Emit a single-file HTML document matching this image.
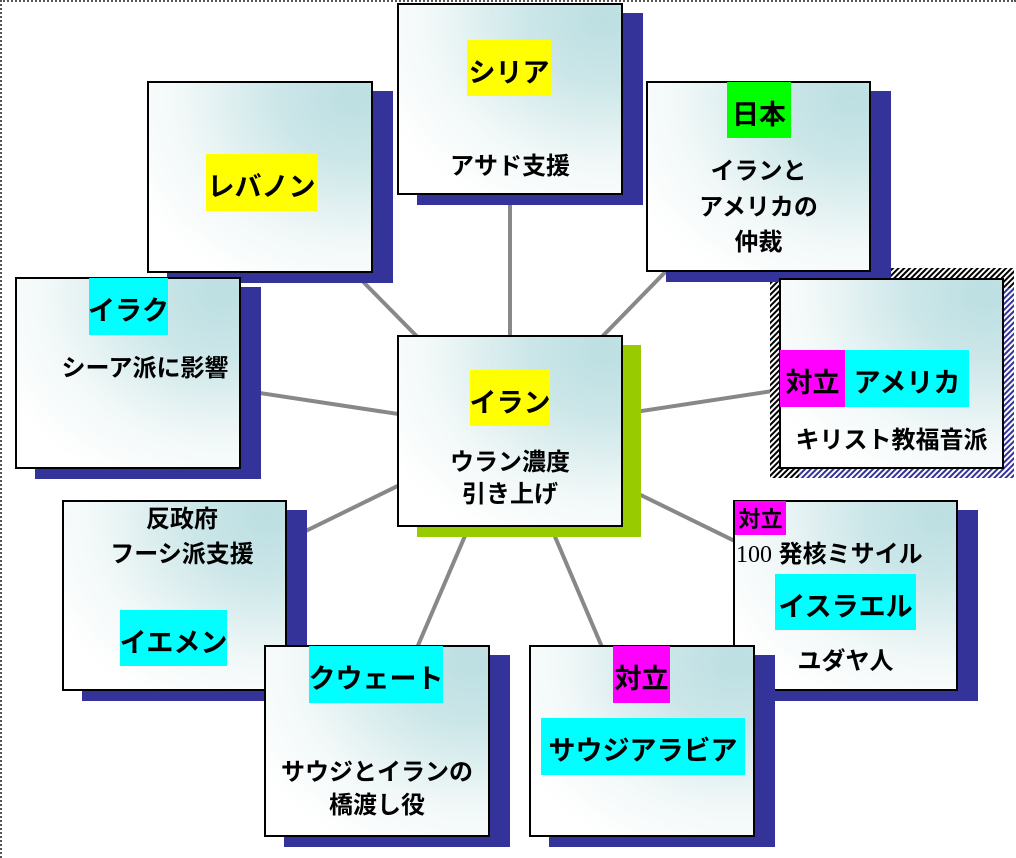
<!DOCTYPE html>
<html><head><meta charset="utf-8"><style>
html,body{margin:0;padding:0;}
body{width:1016px;height:858px;position:relative;overflow:hidden;background:#fff;font-family:"Liberation Sans","Noto Sans CJK JP",sans-serif;}
.frame{position:absolute;left:0;top:0;width:1016px;height:858px;box-sizing:border-box;border-top:2px dotted #555;border-left:2px dotted #555;}
.sh{position:absolute;background:#333399;}
.bx{position:absolute;box-sizing:border-box;border:2px solid #000;background:radial-gradient(ellipse at 92% 8%,#bcdfe2 0%,#cbe6e8 25%,#f2f8f8 60%,#fff 85%);}
.t{position:absolute;font-weight:bold;font-size:24px;color:#000;display:flex;align-items:center;justify-content:center;white-space:nowrap;line-height:1;}
.L{font-size:27px;box-sizing:border-box;padding-top:10px;}
.y{background:#ffff00}.c{background:#00ffff}.m{background:#ff00ff}.g{background:#00ff00}
</style></head><body>
<div class="frame"></div>
<svg style="position:absolute;left:0;top:0" width="1016" height="858">
<defs><pattern id="h" width="4" height="4" patternUnits="userSpaceOnUse" patternTransform="rotate(45)"><rect width="4" height="4" fill="#fff"/><rect width="2" height="4" fill="#000"/></pattern>
<pattern id="h2" width="4" height="4" patternUnits="userSpaceOnUse" patternTransform="rotate(45)"><rect width="4" height="4" fill="#fff"/><rect width="2" height="4" fill="#333399"/></pattern></defs>
<g stroke="#888" stroke-width="4">
<line x1="510" y1="431" x2="260" y2="177"/>
<line x1="510" y1="431" x2="510" y2="100"/>
<line x1="510" y1="431" x2="758" y2="177"/>
<line x1="510" y1="431" x2="128" y2="373"/>
<line x1="510" y1="431" x2="891" y2="373"/>
<line x1="510" y1="431" x2="175" y2="595"/>
<line x1="510" y1="431" x2="377" y2="741"/>
<line x1="510" y1="431" x2="642" y2="741"/>
<line x1="510" y1="431" x2="845" y2="595"/>
</g>
<rect x="770" y="268" width="244" height="210" fill="url(#h)"/>
<rect x="799" y="288" width="215" height="190" fill="url(#h2)"/>
</svg>
<div class="sh" style="left:167px;top:91px;width:226px;height:192px"></div>
<div class="bx" style="left:147px;top:81px;width:226px;height:192px"></div>
<div class="sh" style="left:417px;top:13px;width:226px;height:192px"></div>
<div class="bx" style="left:397px;top:3px;width:226px;height:192px"></div>
<div class="sh" style="left:666px;top:91px;width:225px;height:191px"></div>
<div class="bx" style="left:646px;top:81px;width:225px;height:191px"></div>
<div class="sh" style="left:35px;top:287px;width:226px;height:192px"></div>
<div class="bx" style="left:15px;top:277px;width:226px;height:192px"></div>
<div class="bx" style="left:779px;top:278px;width:225px;height:191px"></div>
<div class="sh" style="left:417px;top:345px;width:224px;height:192px;background:#99cc00"></div>
<div class="bx" style="left:397px;top:335px;width:226px;height:192px"></div>
<div class="sh" style="left:82px;top:510px;width:225px;height:191px"></div>
<div class="bx" style="left:62px;top:500px;width:225px;height:191px"></div>
<div class="sh" style="left:753px;top:510px;width:225px;height:191px"></div>
<div class="bx" style="left:733px;top:500px;width:225px;height:191px"></div>
<div class="sh" style="left:284px;top:655px;width:226px;height:192px"></div>
<div class="bx" style="left:264px;top:645px;width:226px;height:192px"></div>
<div class="sh" style="left:549px;top:655px;width:226px;height:192px"></div>
<div class="bx" style="left:529px;top:645px;width:226px;height:192px"></div>

<div class="t L y" style="left:467px;top:40px;width:84px;height:56px">シリア</div>
<div class="t" style="left:397px;top:154px;width:226px;height:26px">アサド支援</div>
<div class="t L y" style="left:206px;top:154px;width:111px;height:57px">レバノン</div>
<div class="t L g" style="left:727px;top:82px;width:64px;height:56px">日本</div>
<div class="t" style="left:646px;top:159px;width:225px;height:26px">イランと</div>
<div class="t" style="left:646px;top:195px;width:225px;height:26px">アメリカの</div>
<div class="t" style="left:646px;top:230px;width:225px;height:26px">仲裁</div>
<div class="t L c" style="left:89px;top:278px;width:79px;height:57px">イラク</div>
<div class="t" style="left:30px;top:356px;width:230px;height:26px">シーア派に影響</div>
<div class="t L y" style="left:470px;top:370px;width:80px;height:56px">イラン</div>
<div class="t" style="left:397px;top:450px;width:226px;height:26px">ウラン濃度</div>
<div class="t" style="left:397px;top:482px;width:226px;height:26px">引き上げ</div>
<div class="t L m" style="left:780px;top:350px;width:65px;height:57px">対立</div>
<div class="t L c" style="left:845px;top:350px;width:124px;height:57px">アメリカ</div>
<div class="t" style="left:779px;top:428px;width:225px;height:26px">キリスト教福音派</div>
<div class="t" style="left:62px;top:507px;width:240px;height:26px">反政府</div>
<div class="t" style="left:62px;top:542px;width:240px;height:26px">フーシ派支援</div>
<div class="t L c" style="left:120px;top:610px;width:107px;height:56px">イエメン</div>
<div class="t L c" style="left:309px;top:646px;width:134px;height:57px">クウェート</div>
<div class="t" style="left:264px;top:760px;width:226px;height:26px">サウジとイランの</div>
<div class="t" style="left:264px;top:793px;width:226px;height:26px">橋渡し役</div>
<div class="t L m" style="left:613px;top:646px;width:57px;height:57px">対立</div>
<div class="t L c" style="left:541px;top:718px;width:204px;height:57px">サウジアラビア</div>
<div class="t m" style="left:735px;top:501px;width:51px;height:34px;font-size:22px;padding-top:4px;box-sizing:border-box">対立</div>
<div class="t" style="left:736px;top:542px;width:220px;height:26px;justify-content:flex-start;font-weight:normal;font-size:24px"><span style="font-family:'Liberation Serif',serif">100</span>&nbsp;<b>発核ミサイル</b></div>
<div class="t L c" style="left:775px;top:574px;width:141px;height:56px">イスラエル</div>
<div class="t" style="left:733px;top:649px;width:225px;height:26px">ユダヤ人</div>
</body></html>
